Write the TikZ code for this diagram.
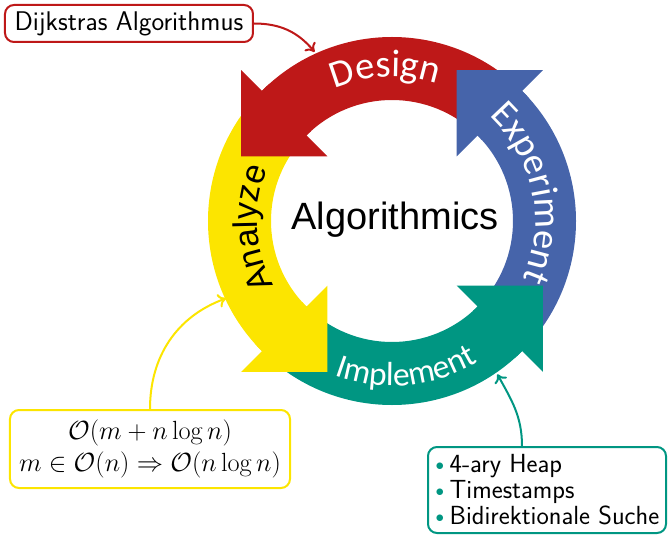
\RequirePackage{fix-cm}
\documentclass[tikz,border=0pt]{standalone}
\usepackage{fontspec}
\newfontfamily\arcfont{Carlito}
\newfontfamily\arialf{Liberation Sans}
\usetikzlibrary{decorations.text,arrows.meta,calc}
\definecolor{kred}{RGB}{190,24,24}
\definecolor{kblue}{RGB}{70,100,170}
\definecolor{kgreen}{RGB}{0,150,130}
\definecolor{kyellow}{RGB}{252,229,0}
\newcommand\cycband[2]{%
  \fill[#2] (#1:184pt) arc[start angle=#1, end angle={#1+90}, radius=184pt]
    -- ({#1+90}:121pt) arc[start angle={#1+90}, end angle=#1, radius=121pt] -- cycle;}
\newcommand\cychead[2]{%
  \fill[#2] ({#1+87}:184pt) arc[start angle={#1+87}, end angle={#1+90}, radius=184pt]
    -- ({#1+90}:213.5pt) -- ({#1+90+21.8}:164.2pt) -- ({#1+90}:91.5pt)
    -- ({#1+90}:121pt) arc[start angle={#1+90}, end angle={#1+87}, radius=121pt] -- cycle;}
\newcommand\tbul{\makebox[15pt][l]{\hspace{1pt}\textcolor{kgreen}{\fontsize{17}{17}\selectfont\raisebox{2.5pt}{$\bullet$}}}}
\tikzset{
  callout/.style={rounded corners=9pt, line width=2pt, fill=white, inner sep=0pt},
  link/.style={line width=2pt, -{To[length=8pt,width=14pt]}},
}
\begin{document}
\begin{tikzpicture}[x=1pt,y=1pt]
\useasboundingbox (-392,-314) rectangle (276,221);
% bands
\cycband{45}{kred}
\cycband{135}{kyellow}
\cycband{225}{kgreen}
\cycband{-45}{kblue}
% heads
\cychead{45}{kred}
\cychead{135}{kyellow}
\cychead{225}{kgreen}
\cychead{-45}{kblue}
% arc labels
\path[decorate,decoration={text along path, text align=center, text color=white,
  text={|\arcfont\fontsize{38.5}{40}\selectfont|Design}}]
  (152.5:144pt) arc[start angle=152.5, end angle=32.5, radius=144pt];
\path[decorate,decoration={text along path, text align=center, text color=white,
  text={|\arcfont\fontsize{38}{40}\selectfont|Experiment}}]
  (71.7:143pt) arc[start angle=71.7, end angle=-48.3, radius=143pt];
\path[decorate,decoration={text along path, text align=center, text color=white,
  text={|\arcfont\fontsize{33.5}{40}\selectfont|Implement}}]
  (215.5:165pt) arc[start angle=215.5, end angle=335.5, radius=165pt];
\path[decorate,decoration={text along path, text align=center, text color=black,
  text={|\arialf\fontsize{34}{40}\selectfont|Analyze}}]
  (243:135pt) arc[start angle=243, end angle=123, radius=135pt];
% center
\node[font=\arialf\fontsize{38}{40}\selectfont, anchor=base] (title) at (3,-9) {Algorithmics};
% callouts
\node[callout, draw=kred, minimum width=248pt, minimum height=37pt,
  font=\sffamily\fontsize{27}{28}\selectfont] (dijk) at (-263,197.5) {Dijkstras Algorithmus};
\node[callout, draw=kyellow, minimum width=280pt, minimum height=78pt, align=center,
  font=\fontsize{26.3}{32}\selectfont] (cplx) at (-242,-228)
  {$\mathcal{O}(m+n\log n)$\\$m\in\mathcal{O}(n)\Rightarrow\mathcal{O}(n\log n)$};
\node[callout, draw=kgreen, minimum width=238pt, minimum height=86pt, align=left,
  font=\sffamily\fontsize{26.2}{26}\selectfont] (impl) at (155,-269)
  {\tbul 4-ary Heap\\\tbul Timestamps\\\tbul Bidirektionale Suche};
% targets
\coordinate (dT) at (114.6:186pt);
\coordinate (yT) at (205:183pt);
\coordinate (gT) at (304.5:186pt);
\coordinate (gS) at ($(impl.north)+(-25,0)$);
\draw[link, kred] (dijk.east) to[out=0, in=130] (dT);
\draw[link, kyellow] (cplx.north) to[out=90, in=200] (yT);
\draw[link, kgreen] (gS) to[out=90, in=-61] (gT);
\end{tikzpicture}
\end{document}
